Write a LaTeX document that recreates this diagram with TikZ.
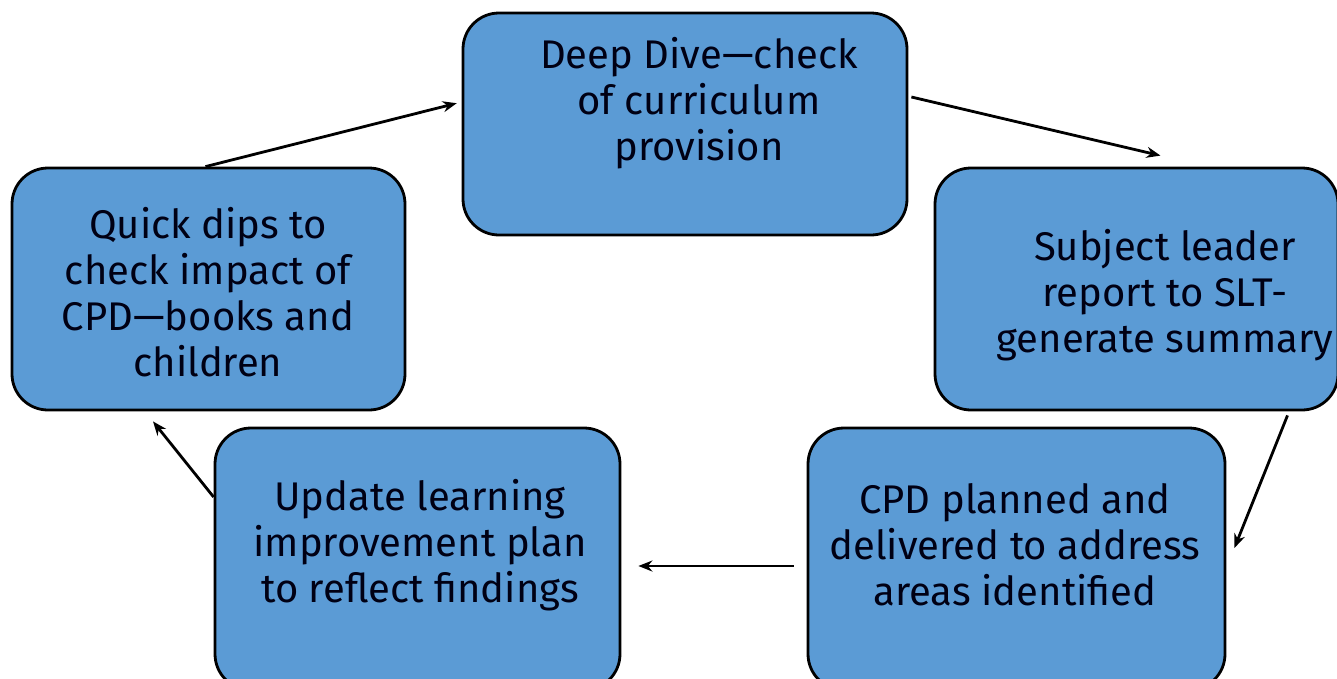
\documentclass[tikz,border=0pt]{standalone}
\usepackage{fontspec}
\setmainfont{Fira Sans}
\usetikzlibrary{arrows.meta}

\definecolor{stageblue}{RGB}{91,155,213}
\tikzset{
  stage/.style={draw=black, line width=2.8pt, fill=stageblue, rounded corners=36pt},
  stagetext/.style={align=center, text=black!92!blue, font=\fontsize{40}{46}\selectfont},
  flow/.style={-{Stealth[length=14pt,width=11pt]}, line width=2.8pt}
}

\begin{document}
\begin{tikzpicture}[x=1pt,y=-1pt]
    \useasboundingbox (0,0) rectangle (1337,678);

    % boxes
    \node[stage, minimum width=444pt, minimum height=222pt] (dive) at (685,124) {};
    \node[stage, minimum width=403pt, minimum height=242pt] (report) at (1136.5,289) {};
    \node[stage, minimum width=417pt, minimum height=262pt] (cpd) at (1016.5,559) {};
    \node[stage, minimum width=405pt, minimum height=262pt] (plan) at (417.5,559) {};
    \node[stage, minimum width=393pt, minimum height=242pt] (quick) at (208.5,289) {};

    % texts
    \node[stagetext] (divetxt) at (699,103) {Deep Dive—check\\of curriculum\\provision};
    \node[stagetext] (reporttxt) at (1165,295) {Subject leader\\report to SLT-\\generate summary};
    \node[stagetext] (cpdtxt) at (1015,545) {CPD planned and\\delivered to address\\areas identified};
    \node[stagetext] (plantxt) at (420,545) {Update learning\\improvement plan\\to reflect findings};
    \node[stagetext] (quicktxt) at (208,292) {Quick dips to\\check impact of\\CPD—books and\\children};

    % cycle
    \draw[flow, shorten >=5pt] ([xshift=-3pt]quick.north) -- ([yshift=22pt]dive.west);
    \draw[flow] ([xshift=3pt,yshift=27pt]dive.east) -- ([xshift=24pt,yshift=11pt]report.north);
    \draw[flow] ([xshift=151pt,yshift=-4pt]report.south) -- ([xshift=8pt,yshift=11pt]cpd.east);
    \draw[flow] ([xshift=-13pt,yshift=-7pt]cpd.west) -- ([xshift=17pt,yshift=-7pt]plan.east);
    \draw[flow] ([yshift=62pt]plan.west) -- ([xshift=-55.5pt,yshift=-10pt]quick.south);

\end{tikzpicture}
\end{document}
